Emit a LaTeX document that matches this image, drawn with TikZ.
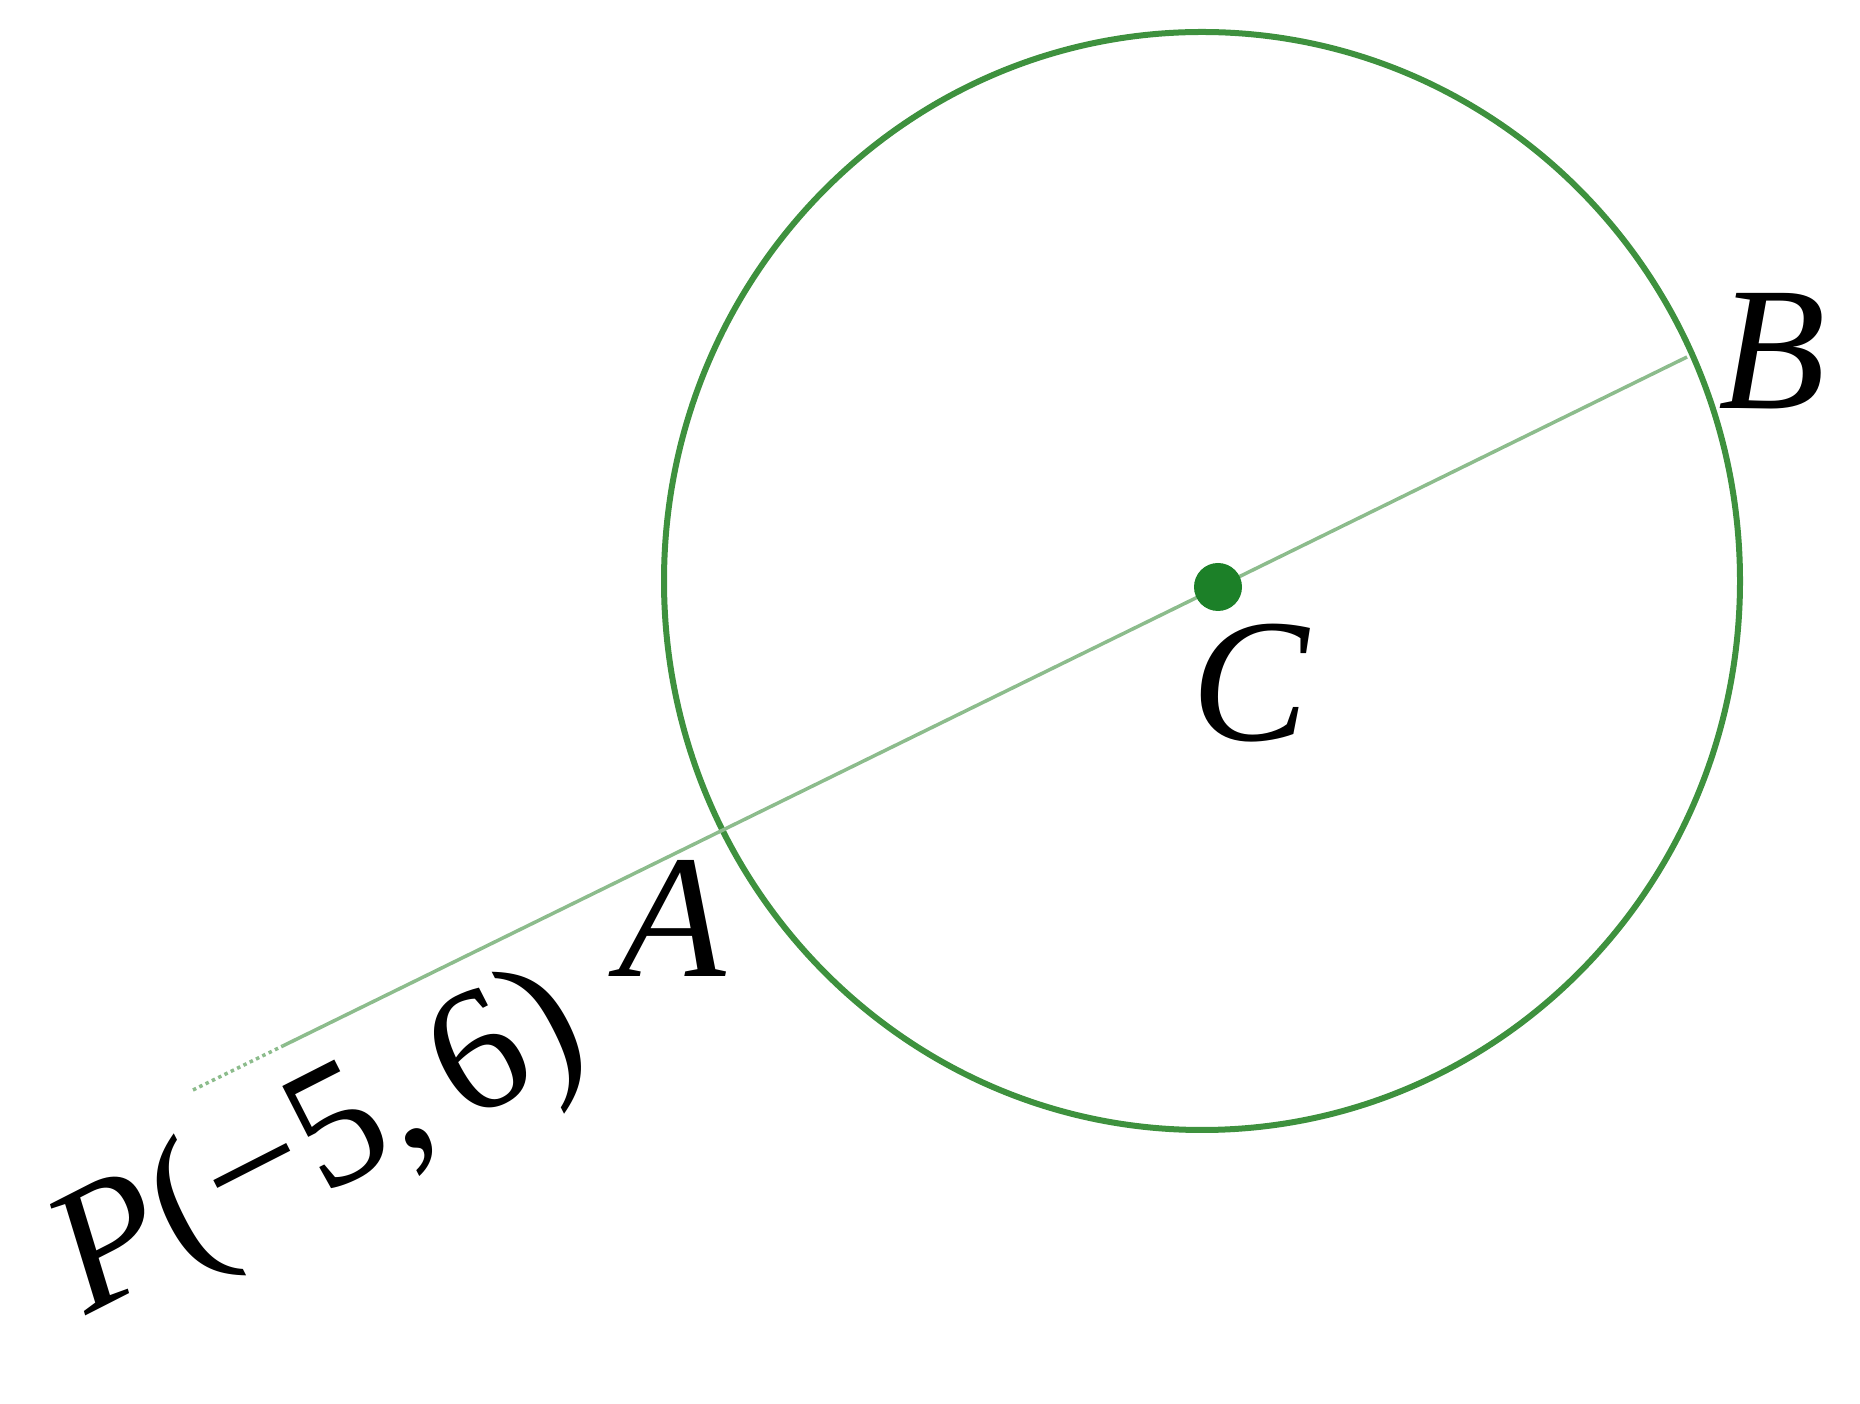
\documentclass[tikz,border=0pt]{standalone}
\usepackage{fontspec}
\setmainfont{Liberation Serif}
\usepackage{xcolor}
\usetikzlibrary{calc,positioning}

\definecolor{circgreen}{RGB}{62,145,62}
\definecolor{chordgreen}{RGB}{140,188,140}
\definecolor{dotgreen}{RGB}{28,128,40}

\tikzset{
    lbl/.style={inner sep=0pt, font=\fontsize{50}{60}\selectfont\itshape},
    chord/.style={chordgreen, line width=0.035cm}
}

\begin{document}
\begin{tikzpicture}[x=0.01cm, y=-0.01cm]
        \useasboundingbox (0,0) rectangle (1860,1404);

        % Circle
        \coordinate (O) at (1202,581);
        \draw[circgreen, line width=0.06cm] (O) ellipse [x radius=538, y radius=549];

        % Line P -- A -- C -- B
        \coordinate (P) at (193,1090);
        \coordinate (B) at (1687,357);
        \coordinate (Pf) at ($(P)!0.06!(B)$);
        \coordinate (C) at (1218,587);
        \draw[chord, densely dotted] (P) -- (Pf);
        \draw[chord] (Pf) -- (B);
        \fill[dotgreen] (C) circle [radius=24];

        % Labels
        \node[lbl] (labA) at (672,918) {A};
        \node[lbl] (labB) at (1772,351) {B};
        \node[lbl] (labC) at (1250,683) {C};
        \node[lbl, font=\fontsize{50}{60}\selectfont, anchor=base west, rotate=27] (labP) at (86,1316) {\textit{P}(−5,\hspace{0.15em}6)};
    \end{tikzpicture}
\end{document}
